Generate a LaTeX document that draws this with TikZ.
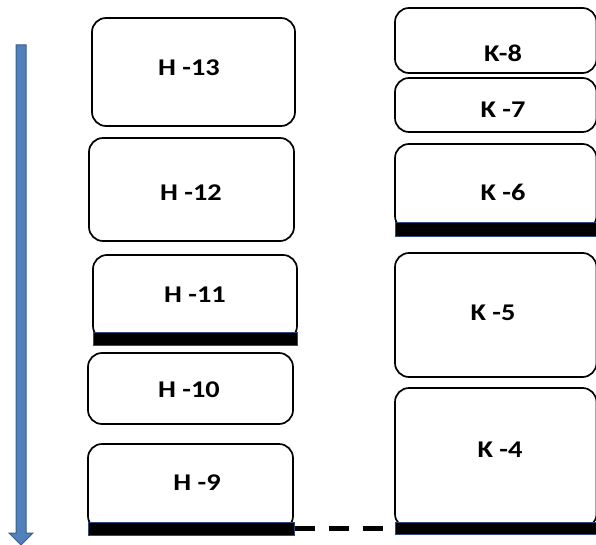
\documentclass[tikz,border=0pt]{standalone}
\usepackage{fontspec}
\newfontfamily\lblfont[FakeStretch=1.18]{Carlito}
\usepackage{xcolor}
\definecolor{cFlow}{HTML}{4F81BD}
\definecolor{cFlowEdge}{HTML}{385D8A}
\definecolor{cBarEdge}{HTML}{2F4A78}
\usetikzlibrary{calc}
\tikzset{
  layer-box/.style={draw=black,line width=1.7pt,rounded corners=14pt,
    fill=white,inner sep=0pt},
  layer-tag/.style={font=\lblfont\bfseries\fontsize{24}{28}\selectfont,
    inner sep=0pt},
  layer-base/.style={draw=cBarEdge,line width=1pt,fill=black,inner sep=0pt},
  tie/.style={draw=black,line width=4.5pt,dash pattern=on 20pt off 14pt},
  flow/.style={fill=cFlow,draw=cFlowEdge,line width=1pt},
}

\begin{document}
\begin{tikzpicture}[x=1pt,y=-1pt]
  \useasboundingbox (0,0) rectangle (596,545);
  % descending flow
  \coordinate (flowtop) at (21,45);
  \coordinate (flowend) at (21,545);
  \filldraw[flow] ($(flowtop)+(-5,0)$) -- ($(flowtop)+(5,0)$)
    -- ($(flowend)+(5,-12)$) -- ($(flowend)+(12,-12)$) -- (flowend)
    -- ($(flowend)+(-12,-12)$) -- ($(flowend)+(-5,-12)$) -- cycle;
  % H column
  \node[layer-box,minimum width=203,minimum height=108] (h13) at (193.5,72)  {};
  \node[layer-box,minimum width=205,minimum height=103] (h12) at (191.5,189.5) {};
  \node[layer-box,minimum width=204,minimum height=85]  (h11) at (195,297.5) {};
  \node[layer-box,minimum width=205,minimum height=71]  (h10) at (190.5,388.5) {};
  \node[layer-box,minimum width=205,minimum height=86]  (h9)  at (190.5,487) {};
  \node[layer-base,minimum width=204,minimum height=13] (h11bar) at (195,338.5) {};
  \node[layer-base,minimum width=206,minimum height=13] (h9bar)  at (191,528.5) {};
  \node[layer-tag] (h13t) at (189,68)  {H -13};
  \node[layer-tag] (h12t) at (191,193) {H -12};
  \node[layer-tag] (h11t) at (195,295) {H -11};
  \node[layer-tag] (h10t) at (189,390) {H -10};
  \node[layer-tag] (h9t)  at (197,483) {H -9};
  % K column
  \node[layer-box,minimum width=201.5,minimum height=65]  (k8) at (495.75,40.5) {};
  \node[layer-box,minimum width=201.5,minimum height=54]  (k7) at (495.75,105) {};
  \node[layer-box,minimum width=201.5,minimum height=86]  (k6) at (495.75,187) {};
  \node[layer-box,minimum width=201.5,minimum height=124] (k5) at (495.75,315) {};
  \node[layer-box,minimum width=201.5,minimum height=140] (k4) at (495.75,458) {};
  \node[layer-base,minimum width=203,minimum height=14] (k6bar) at (496.5,229.5) {};
  \node[layer-base,minimum width=203,minimum height=12] (k4bar) at (496.5,528) {};
  \node[layer-tag] (k8t) at (503,53)  {K-8};
  \node[layer-tag] (k7t) at (503,110) {K -7};
  \node[layer-tag] (k6t) at (503,192) {K -6};
  \node[layer-tag] (k5t) at (493,313) {K -5};
  \node[layer-tag] (k4t) at (500,450) {K -4};
  % link between bases
  \draw[tie] (h9bar.east) -- (h9bar.east -| k4bar.west);
\end{tikzpicture}
\end{document}
